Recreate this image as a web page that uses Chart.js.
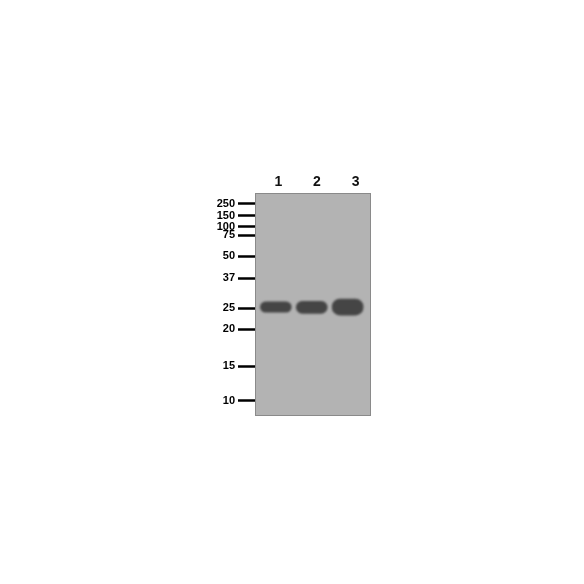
<!DOCTYPE html>
<html>
<head>
<meta charset="utf-8">
<script src="https://cdn.jsdelivr.net/npm/chart.js@4/dist/chart.umd.min.js"></script>
<style>
  html, body { margin: 0; padding: 0; background: #fff; }
  #wrap { width: 584px; height: 584px; }
</style>
</head>
<body>
<div id="wrap"><canvas id="blot" width="584" height="584"></canvas></div>
<script>
// lanes and marker ladder (migration = distance down the blot, 0..100)
var laneLabels = ['1', '2', '3'];
var markerLabels = ['250', '150', '100', '75', '50', '37', '25', '20', '15', '10'];
var markerMigration = [4.9, 10.3, 15.1, 19.0, 28.3, 38.3, 51.7, 61.1, 77.6, 93.1];

// band for each lane: lane position, top and bottom of band in migration units
var bandLane = [1, 2, 3];
var bandTop = [48.7, 48.4, 47.4];
var bandBottom = [53.6, 54.1, 54.9];

document.addEventListener('DOMContentLoaded', function () {
    var bands = bandLane.map(function (lane, i) {
        return { x: lane, y: [bandTop[i], bandBottom[i]] };
    });

    // membrane background + border, soft band edges
    var membrane = {
        id: 'membrane',
        beforeDatasetsDraw: function (chart) {
            var a = chart.chartArea, ctx = chart.ctx;
            ctx.save();
            ctx.fillStyle = '#b3b3b3';
            ctx.fillRect(a.left, a.top, a.right - a.left, a.bottom - a.top);
            ctx.strokeStyle = '#8a8a8a';
            ctx.lineWidth = 1;
            ctx.strokeRect(a.left + 0.5, a.top + 0.5, a.right - a.left - 1, a.bottom - a.top - 1);
            ctx.restore();
            ctx.save();
            ctx.filter = 'blur(1.1px)';
        },
        afterDatasetsDraw: function (chart) {
            chart.ctx.restore();
        }
    };

    var ctx = document.getElementById('blot').getContext('2d');
    new Chart(ctx, {
        type: 'bar',
        data: {
            datasets: [{
                label: 'Band',
                data: bands,
                backgroundColor: '#454545',
                borderWidth: 0,
                borderSkipped: false,
                borderRadius: 8,
                barPercentage: 0.88,
                categoryPercentage: 1,
                xAxisID: 'x',
                yAxisID: 'y'
            }]
        },
        options: {
            responsive: false,
            animation: false,
            devicePixelRatio: 1,
            layout: { padding: { left: 195, right: 213, top: 171, bottom: 168 } },
            plugins: {
                legend: { display: false },
                tooltip: { enabled: false },
                title: { display: false }
            },
            scales: {
                x: {
                    type: 'linear',
                    display: false,
                    offset: false,
                    min: 0.42,
                    max: 3.65
                },
                lanes: {
                    type: 'category',
                    position: 'top',
                    labels: laneLabels,
                    offset: true,
                    grid: { display: false, drawTicks: false },
                    border: { display: false },
                    ticks: {
                        color: '#111',
                        padding: 2,
                        labelOffset: 4,
                        font: { family: 'Liberation Sans', size: 14, weight: 'bold' }
                    },
                    afterFit: function (scale) { scale.height = 22; }
                },
                y: {
                    type: 'linear',
                    reverse: true,
                    min: 0,
                    max: 100,
                    afterBuildTicks: function (scale) {
                        scale.ticks = markerMigration.map(function (v) { return { value: v }; });
                    },
                    afterFit: function (scale) { scale.width = 60; },
                    border: { display: false },
                    grid: {
                        drawOnChartArea: false,
                        drawTicks: true,
                        tickLength: 17,
                        tickWidth: 2.5,
                        tickColor: '#000'
                    },
                    ticks: {
                        autoSkip: false,
                        color: '#000',
                        padding: 3,
                        font: { family: 'Liberation Sans', size: 11, weight: 'bold' },
                        callback: function (value, index) { return markerLabels[index]; }
                    }
                }
            }
        },
        plugins: [membrane]
    });
});
</script>
</body>
</html>
